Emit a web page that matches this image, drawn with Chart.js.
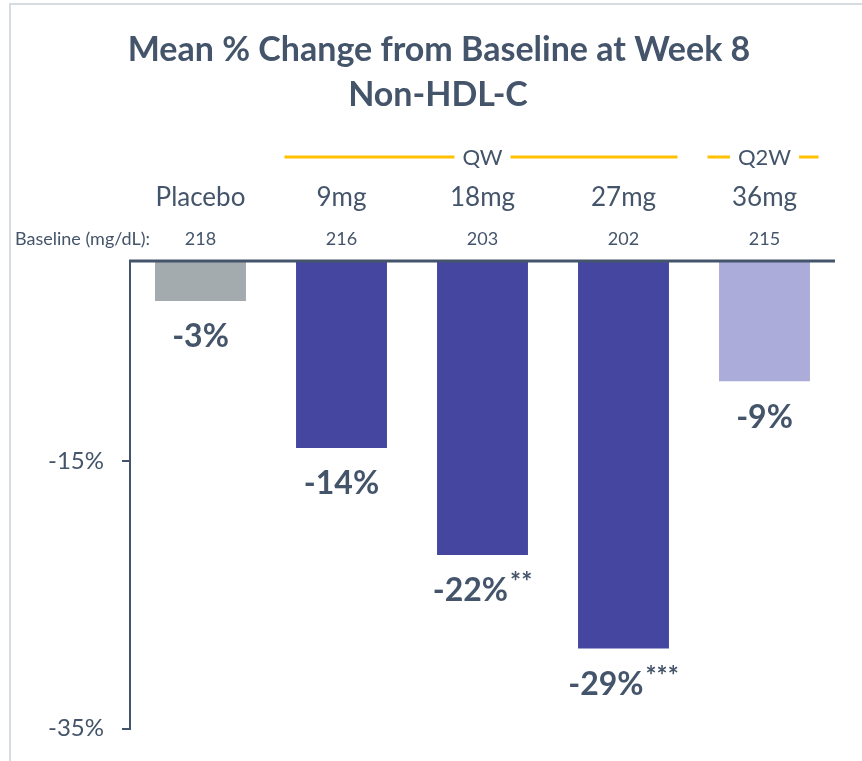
<!DOCTYPE html>
<html>
<head>
<title>Non-HDL-C</title>
<style>
  body { margin: 0; background: #fff; }
  #wrap { width: 862px; height: 761px; }
</style>
</head>
<body>
<div id="wrap"><canvas id="myChart" width="862" height="761"></canvas></div>

<script src="https://cdn.jsdelivr.net/npm/chart.js"></script>
<script>
// data
const groups = ['Placebo', '9mg', '18mg', '27mg', '36mg'];
const baseline = [218, 216, 203, 202, 215];
const change = [-3, -14, -22, -29, -9];
const stars = ['', '', '**', '***', ''];
const yTicks = [-15, -35];
// dosing brackets over the groups: [label, first index, last index]
const brackets = [['QW', 1, 3], ['Q2W', 4, 4]];

const TEXT = '#44546A';
const GOLD = '#FFC000';
const FONT = 'Lato, "Open Sans", sans-serif';
const barColors = ['#A3ABAF', '#4546A0', '#4546A0', '#4546A0', '#ACACDA'];

function font(size, bold) {
  return (bold ? 'bold ' : '') + size + 'px ' + FONT;
}

// everything that is not a bar or the y axis
const annotate = {
  id: 'annotate',
  beforeDraw(chart) {
    const ctx = chart.ctx;
    ctx.save();
    ctx.strokeStyle = '#D6DCE0';
    ctx.lineWidth = 2;
    ctx.beginPath();
    ctx.moveTo(10, 761);
    ctx.lineTo(10, 4);
    ctx.lineTo(862, 4);
    ctx.stroke();
    ctx.restore();
  },
  afterDraw(chart) {
    const ctx = chart.ctx;
    const x = chart.scales.x;
    const y = chart.scales.y;
    const area = chart.chartArea;
    ctx.save();
    ctx.fillStyle = TEXT;
    ctx.textAlign = 'center';
    ctx.textBaseline = 'middle';

    // title
    ctx.font = font(34, true);
    ctx.fillText('Mean % Change from Baseline at Week 8', 439, 50);
    ctx.fillText('Non-HDL-C', 438, 95);

    // zero line
    const y0 = y.getPixelForValue(0);
    ctx.strokeStyle = TEXT;
    ctx.lineWidth = 3;
    ctx.beginPath();
    ctx.moveTo(area.left - 1, y0);
    ctx.lineTo(area.right, y0);
    ctx.stroke();

    // dose brackets
    ctx.font = font(22, false);
    ctx.strokeStyle = GOLD;
    ctx.lineWidth = 3;
    brackets.forEach(([label, a, b]) => {
      const left = x.getPixelForValue(a) - 57;
      const right = x.getPixelForValue(b) + 54;
      const cx = a === b ? x.getPixelForValue(a) : x.getPixelForValue(2);
      const half = ctx.measureText(label).width / 2 + 8;
      ctx.beginPath();
      ctx.moveTo(left, 157);
      ctx.lineTo(cx - half, 157);
      ctx.moveTo(cx + half, 157);
      ctx.lineTo(right, 157);
      ctx.stroke();
      ctx.fillText(label, cx, 158);
    });

    // group names and baseline values
    groups.forEach((g, i) => {
      const cx = x.getPixelForValue(i);
      ctx.font = font(26, false);
      ctx.fillText(g, cx, 198);
      ctx.font = font(18, false);
      ctx.fillText(String(baseline[i]), cx, 239);
    });
    ctx.textAlign = 'left';
    ctx.fillText('Baseline (mg/dL):', 15, 239);

    // value labels under each bar, label + stars centred together
    ctx.textAlign = 'left';
    change.forEach((v, i) => {
      const cx = x.getPixelForValue(i);
      const cy = y.getPixelForValue(v) + 36;
      const txt = v + '%';
      ctx.font = font(32, true);
      const w = ctx.measureText(txt).width;
      ctx.font = font(26, true);
      const sw = stars[i] ? ctx.measureText(stars[i]).width + 2 : 0;
      const x0 = cx - (w + sw) / 2;
      ctx.font = font(32, true);
      ctx.fillText(txt, x0, cy);
      if (stars[i]) {
        ctx.font = font(26, true);
        ctx.fillText(stars[i], x0 + w + 2, cy - 8);
      }
    });
    ctx.restore();
  }
};

const ctx = document.getElementById('myChart');

new Chart(ctx, {
  type: 'bar',
  data: {
    labels: groups,
    datasets: [{
      data: change,
      backgroundColor: barColors,
      borderWidth: 0,
      categoryPercentage: 1,
      barPercentage: 0.645
    }]
  },
  options: {
    responsive: false,
    animation: false,
    layout: { padding: { top: 261, right: 27, bottom: 29, left: 0 } },
    plugins: { legend: { display: false }, tooltip: { enabled: false } },
    scales: {
      x: { display: false },
      y: {
        min: -35,
        max: 0,
        afterBuildTicks: s => { s.ticks = yTicks.map(v => ({ value: v })); },
        afterFit: s => { s.width = 130; },
        grid: { drawOnChartArea: false, drawTicks: true, tickLength: 8, color: TEXT, lineWidth: 2 },
        border: { display: true, color: TEXT, width: 2 },
        ticks: {
          padding: 18,
          color: TEXT,
          font: { family: FONT, size: 24 },
          callback: v => v + '%'
        }
      }
    }
  },
  plugins: [annotate]
});
</script>
</body>
</html>
